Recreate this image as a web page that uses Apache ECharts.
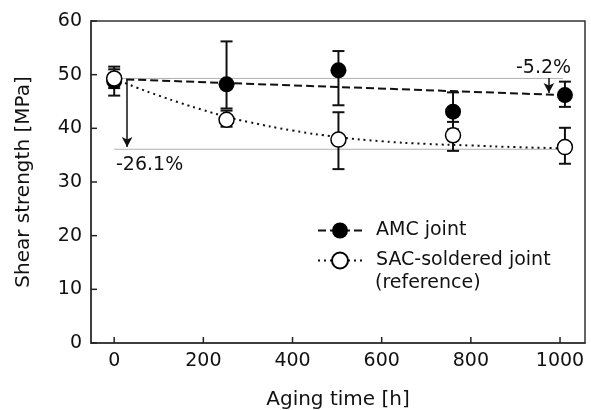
<!DOCTYPE html>
<html><head><meta charset="utf-8">
<script src="https://cdn.jsdelivr.net/npm/echarts@6/dist/echarts.min.js"></script>
<style>html,body{margin:0;padding:0;background:#fff}#c{width:591px;height:410px}</style>
</head><body><div id="c"></div>
<script>
const xTicks = [0, 200, 400, 600, 800, 1000];
const yTicks = [0, 10, 20, 30, 40, 50, 60];
const amcPoints = [[0, 48.8], [252, 48.2], [503, 50.8], [760, 43.1], [1011, 46.2]];
const amcErr = [[0, 46.1, 51.0], [252, 43.7, 56.2], [503, 44.3, 54.4], [760, 39.8, 46.7], [1011, 44.0, 48.7]];
const sacPoints = [[0, 49.3], [252, 41.6], [503, 37.9], [760, 38.7], [1011, 36.5]];
const sacErr = [[0, 47.5, 51.5], [252, 40.3, 43.3], [503, 32.4, 43.0], [760, 35.8, 41.2], [1011, 33.4, 40.1]];
const amcTrend = [[0, 49.2], [1005, 46.2]];
const sacTrend = [[0, 49.3], [50, 47.6], [100, 46.1], [150, 44.7], [200, 43.4], [250, 42.2], [300, 41.2], [400, 39.6], [500, 38.4], [600, 37.6], [700, 37.1], [800, 36.8], [900, 36.5], [995, 36.3]];
const refUpper = [[0, 49.3], [1007, 49.3]];
const refLower = [[0, 36.1], [1000, 36.1]];
const arrowBig = [[29, 49.2], [29, 36.5]];
const arrowSmall = [[975, 49.4], [975, 46.6]];
const labels = { big: '-26.1%', small: '-5.2%' };

const X_MIN = -52, X_MAX = 1056, Y_MIN = 0, Y_MAX = 60;
const FONT = 'DejaVu Sans';
const chart = echarts.init(document.getElementById('c'));

function errRender(params, api) {
  const x = api.value(0), lo = api.value(1), hi = api.value(2);
  const pLo = api.coord([x, lo]), pHi = api.coord([x, hi]);
  const w = 6;
  const st = { stroke: '#111', lineWidth: 2 };
  return { type: 'group', children: [
    { type: 'line', shape: { x1: pLo[0], y1: pLo[1], x2: pHi[0], y2: pHi[1] }, style: st },
    { type: 'line', shape: { x1: pLo[0] - w, y1: pLo[1], x2: pLo[0] + w, y2: pLo[1] }, style: st },
    { type: 'line', shape: { x1: pHi[0] - w, y1: pHi[1], x2: pHi[0] + w, y2: pHi[1] }, style: st }
  ]};
}

// inward tick marks, positioned through the axes' own scales
function xTickRender(params, api) {
  const p = api.coord([api.value(0), api.value(1)]);
  return { type: 'line', shape: { x1: p[0], y1: p[1], x2: p[0], y2: p[1] - 6 }, style: { stroke: '#222', lineWidth: 1.5 } };
}
function yTickRender(params, api) {
  const p = api.coord([api.value(0), api.value(1)]);
  return { type: 'line', shape: { x1: p[0], y1: p[1], x2: p[0] + 6, y2: p[1] }, style: { stroke: '#222', lineWidth: 1.5 } };
}

function arrowLine(data) {
  return {
    type: 'line', data: [], silent: true,
    markLine: {
      silent: true, symbol: ['none', 'arrow'], symbolSize: [8, 10], animation: false,
      label: { show: false },
      lineStyle: { color: '#111', width: 1.5, type: 'solid' },
      data: [[{ coord: data[0] }, { coord: data[1] }]]
    }
  };
}

chart.setOption({
  animation: false,
  grid: { left: 91, right: 6, top: 21, bottom: 67, show: true, borderColor: '#333', borderWidth: 1.5,
          containLabel: false, outerBoundsMode: 'none' },
  xAxis: {
    type: 'value', min: X_MIN, max: X_MAX,
    name: 'Aging time [h]', nameLocation: 'middle', nameGap: 47,
    nameTextStyle: { fontFamily: FONT, fontSize: 20, color: '#111' },
    axisLine: { show: true, onZero: false, lineStyle: { color: '#333', width: 1.5 } },
    axisTick: { show: false },
    axisLabel: { customValues: xTicks, fontFamily: FONT, fontSize: 19, color: '#111', margin: 9, formatter: v => String(v) },
    splitLine: { show: false }
  },
  yAxis: {
    type: 'value', min: Y_MIN, max: Y_MAX, interval: 10,
    name: 'Shear strength [MPa]', nameLocation: 'middle', nameGap: 57,
    nameTextStyle: { fontFamily: FONT, fontSize: 20, color: '#111' },
    axisLine: { show: true, onZero: false, lineStyle: { color: '#333', width: 1.5 } },
    axisTick: { show: false },
    axisLabel: { fontFamily: FONT, fontSize: 19, color: '#111', margin: 9 },
    splitLine: { show: false }
  },
  legend: {
    left: 312, top: 216, orient: 'vertical', itemGap: 11, itemWidth: 44, itemHeight: 20,
    textStyle: { fontFamily: FONT, fontSize: 19, color: '#111', padding: [0, 0, 0, 9] },
    data: ['AMC joint', 'SAC-soldered joint']
  },
  graphic: [
    { type: 'text', left: 375, top: 274, style: { text: '(reference)', font: '19px "DejaVu Sans"', fill: '#111' } },
    { type: 'text', left: 116, top: 156, style: { text: labels.big, font: '19px "DejaVu Sans"', fill: '#111' } },
    { type: 'text', left: 516, top: 59, style: { text: labels.small, font: '19px "DejaVu Sans"', fill: '#111' } }
  ],
  series: [
    { type: 'custom', name: 'xticks', data: xTicks.map(v => [v, Y_MIN]), renderItem: xTickRender, silent: true, clip: false, z: 6 },
    { type: 'custom', name: 'yticks', data: yTicks.map(v => [X_MIN, v]), renderItem: yTickRender, silent: true, clip: false, z: 6 },
    { type: 'line', name: 'ref1', data: refUpper, symbol: 'none', silent: true, lineStyle: { color: '#b0b0b0', width: 1 }, z: 1 },
    { type: 'line', name: 'ref2', data: refLower, symbol: 'none', silent: true, lineStyle: { color: '#b0b0b0', width: 1 }, z: 1 },
    arrowLine(arrowBig),
    arrowLine(arrowSmall),
    { type: 'line', name: 'AMC joint', data: amcTrend, symbol: 'circle', symbolSize: 16, showSymbol: false,
      itemStyle: { color: '#000' }, lineStyle: { color: '#111', width: 2, type: [8, 4] }, z: 2 },
    { type: 'line', name: 'SAC-soldered joint', data: sacTrend, symbol: 'circle', symbolSize: 15, showSymbol: false, smooth: true,
      itemStyle: { color: '#fff', borderColor: '#000', borderWidth: 1.5 }, lineStyle: { color: '#111', width: 2, type: [2, 4] }, z: 2 },
    { type: 'custom', name: 'amcErr', data: amcErr, renderItem: errRender, z: 3 },
    { type: 'custom', name: 'sacErr', data: sacErr, renderItem: errRender, z: 3 },
    { type: 'scatter', name: 'amcPts', data: amcPoints, symbol: 'circle', symbolSize: 16, itemStyle: { color: '#000', opacity: 1 }, z: 4 },
    { type: 'scatter', name: 'sacPts', data: sacPoints, symbol: 'circle', symbolSize: 15, itemStyle: { color: '#fff', borderColor: '#000', borderWidth: 1.5, opacity: 1 }, z: 5 }
  ]
});
</script></body></html>
